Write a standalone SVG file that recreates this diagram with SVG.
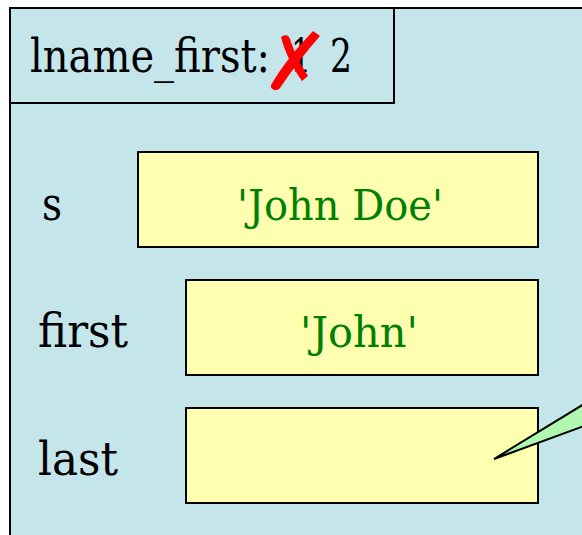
<svg xmlns="http://www.w3.org/2000/svg" width="582" height="535" viewBox="0 0 582 535">
<style>
.lbl{font-family:"DejaVu Serif","Liberation Serif",serif;font-size:47px;fill:#000}
.val{font-family:"DejaVu Serif","Liberation Serif",serif;font-size:42px;fill:#008000}
.box{fill:#ffffb0;stroke:#000;stroke-width:2}
</style>
<rect x="0" y="0" width="582" height="535" fill="#fff"/>
<g id="frame">
<rect x="10" y="8" width="590" height="560" fill="#c4e5e9" stroke="#000" stroke-width="2"/>
<rect x="10" y="8" width="384" height="95" fill="#c4e5e9" stroke="#000" stroke-width="2"/>
<text class="lbl" y="72"><tspan x="30" textLength="240" lengthAdjust="spacingAndGlyphs">lname_first:</tspan><tspan x="291" textLength="20" lengthAdjust="spacingAndGlyphs">1</tspan><tspan x="330" textLength="22" lengthAdjust="spacingAndGlyphs">2</tspan></text>
<path d="M313,31 L320,36 C306,52 292,70 280,88 C277,92 270,90 271,85 C282,66 297,48 313,31 Z" fill="#f00"/>
<path d="M281,37 C285,34 289,35 290,39 C294,52 301,65 308,76 L302,81 C293,68 285,53 281,37 Z" fill="#f00"/>
</g>
<g id="s">
<text class="lbl" x="42" y="220" textLength="20" lengthAdjust="spacingAndGlyphs">s</text>
<rect class="box" x="138" y="152" width="400" height="95"/>
<text class="val" x="237" y="220" textLength="206" lengthAdjust="spacingAndGlyphs">'John Doe'</text>
</g>
<g id="first">
<text class="lbl" x="38" y="347" textLength="90" lengthAdjust="spacingAndGlyphs">first</text>
<rect class="box" x="186" y="280" width="352" height="95"/>
<text class="val" x="300" y="347" textLength="118" lengthAdjust="spacingAndGlyphs">'John'</text>
</g>
<g id="last">
<text class="lbl" x="38" y="475" textLength="80" lengthAdjust="spacingAndGlyphs">last</text>
<rect class="box" x="186" y="408" width="352" height="95"/>
</g>
<g id="connectors">
<polygon points="494,459 584,404 584,426" fill="#b0f8b0" stroke="#000" stroke-width="2" stroke-linejoin="miter"/>
</g>
</svg>
